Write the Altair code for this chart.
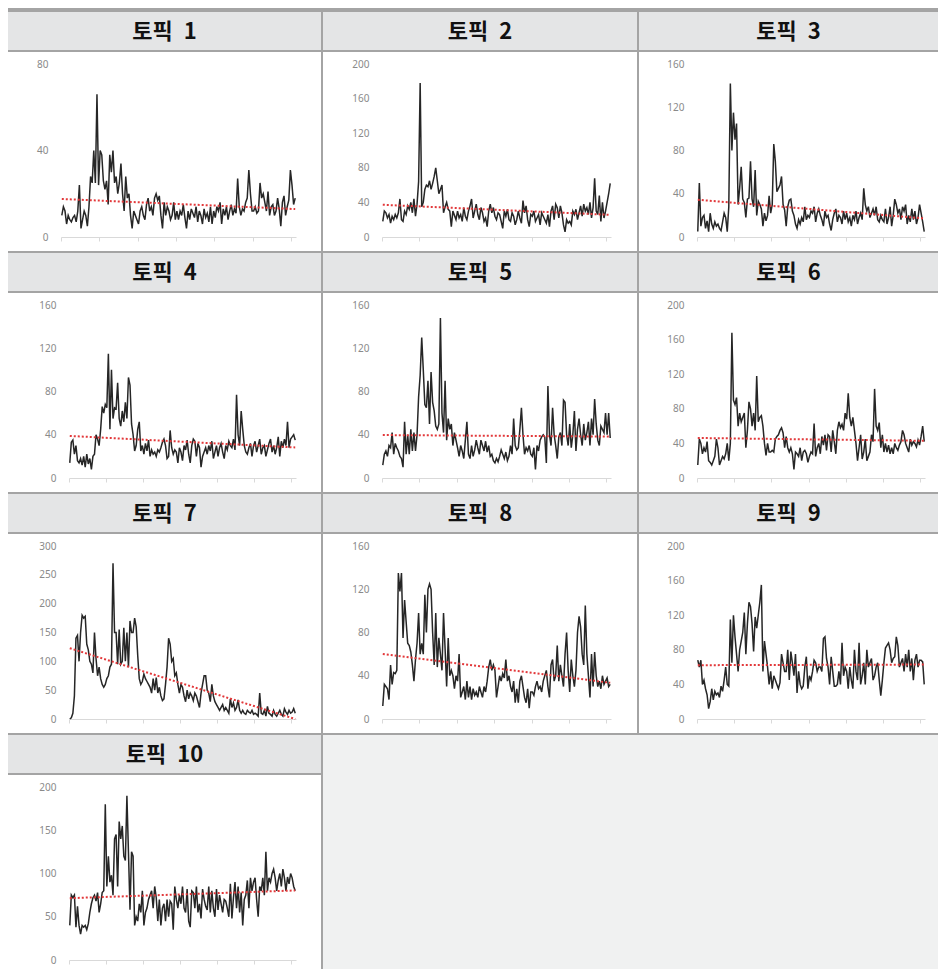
import altair as alt
import pandas as pd

# ---------------- data ----------------
TITLES = ["토픽 1", "토픽 2", "토픽 3", "토픽 4", "토픽 5",
          "토픽 6", "토픽 7", "토픽 8", "토픽 9", "토픽 10"]

TOPIC_1 = [10, 14, 12, 6, 10, 8, 7, 9, 10, 7, 12, 24, 4, 8, 12, 10, 5, 14, 28, 25, 40, 25, 66, 24,
           40, 38, 26, 22, 26, 15, 38, 30, 40, 25, 28, 20, 25, 34, 20, 12, 28, 18, 20, 10, 4, 12, 10, 8,
           6, 12, 14, 10, 8, 15, 18, 12, 14, 10, 18, 20, 17, 19, 10, 4, 16, 10, 14, 12, 8, 10, 16, 8,
           12, 8, 12, 10, 15, 9, 4, 12, 8, 13, 11, 9, 14, 7, 12, 10, 6, 13, 9, 11, 7, 14, 6, 12,
           9, 14, 12, 16, 6, 13, 10, 14, 8, 12, 15, 10, 13, 11, 27, 14, 10, 13, 12, 16, 18, 31, 20, 12,
           12, 14, 11, 12, 25, 18, 20, 16, 12, 21, 10, 14, 15, 10, 12, 18, 13, 5, 16, 19, 10, 14, 17, 31,
           24, 15, 18]
TOPIC_2 = [18, 30, 28, 22, 26, 16, 24, 20, 26, 22, 28, 44, 20, 18, 30, 26, 36, 32, 40, 28, 44, 24, 38, 64,
           178, 35, 40, 55, 60, 58, 65, 55, 62, 70, 80, 65, 50, 55, 60, 28, 35, 40, 32, 30, 12, 30, 25, 20,
           30, 22, 26, 18, 34, 24, 20, 30, 36, 44, 22, 30, 38, 26, 20, 34, 28, 18, 22, 12, 30, 38, 28, 34,
           24, 20, 28, 26, 18, 10, 30, 24, 32, 20, 18, 28, 24, 14, 20, 30, 22, 16, 42, 28, 36, 20, 12, 26,
           24, 30, 18, 22, 26, 14, 28, 24, 20, 16, 26, 12, 30, 36, 20, 38, 34, 22, 36, 28, 14, 6, 20, 16,
           18, 14, 30, 26, 32, 20, 28, 36, 24, 38, 30, 34, 26, 40, 22, 34, 68, 30, 26, 48, 18, 40, 22, 30,
           40, 50, 62]
TOPIC_3 = [5, 50, 10, 18, 20, 8, 15, 5, 22, 12, 8, 14, 10, 12, 8, 6, 14, 22, 18, 5, 28, 142, 80, 115,
           90, 105, 30, 45, 65, 35, 32, 18, 35, 36, 70, 35, 28, 62, 20, 33, 30, 26, 10, 22, 15, 20, 38, 22,
           30, 86, 70, 42, 45, 48, 56, 30, 25, 10, 28, 34, 35, 24, 20, 12, 8, 16, 12, 18, 14, 28, 16, 20,
           18, 24, 22, 28, 14, 22, 26, 20, 16, 10, 24, 18, 20, 12, 6, 16, 22, 26, 14, 20, 18, 12, 24, 16,
           22, 14, 18, 10, 20, 16, 24, 12, 18, 22, 16, 45, 30, 24, 28, 18, 22, 26, 20, 28, 16, 14, 20, 16,
           14, 26, 12, 18, 28, 10, 20, 35, 30, 22, 26, 16, 28, 24, 30, 12, 20, 14, 26, 16, 24, 12, 18, 30,
           22, 14, 5]
TOPIC_4 = [14, 33, 35, 22, 30, 16, 14, 18, 12, 20, 10, 22, 13, 18, 8, 20, 22, 40, 36, 30, 45, 66, 60, 68,
           65, 115, 45, 100, 55, 65, 64, 88, 55, 48, 62, 52, 70, 55, 93, 86, 50, 40, 25, 30, 45, 52, 25, 30,
           22, 32, 25, 35, 20, 26, 22, 24, 20, 26, 24, 28, 33, 36, 30, 18, 20, 44, 28, 22, 26, 24, 14, 28,
           24, 16, 30, 26, 35, 22, 14, 30, 36, 34, 20, 32, 28, 10, 20, 24, 28, 22, 30, 25, 34, 18, 24, 30,
           20, 28, 32, 24, 18, 30, 26, 34, 30, 28, 36, 26, 77, 40, 30, 62, 45, 30, 24, 22, 28, 32, 20, 30,
           34, 24, 30, 36, 22, 28, 30, 20, 26, 32, 36, 24, 30, 22, 28, 38, 20, 34, 28, 36, 30, 52, 28, 36,
           38, 40, 35]
TOPIC_5 = [12, 22, 25, 20, 30, 28, 42, 22, 32, 28, 25, 20, 18, 10, 52, 22, 40, 22, 45, 25, 42, 25, 40, 75,
           95, 130, 100, 68, 65, 90, 50, 98, 70, 62, 48, 45, 50, 148, 60, 42, 90, 35, 55, 45, 50, 30, 42, 35,
           28, 20, 30, 25, 18, 35, 52, 22, 18, 30, 20, 26, 35, 28, 22, 35, 30, 25, 34, 24, 30, 20, 22, 16,
           14, 18, 15, 20, 26, 22, 18, 24, 16, 20, 30, 22, 55, 30, 26, 28, 45, 65, 40, 22, 28, 25, 30, 22,
           20, 28, 8, 30, 25, 35, 38, 40, 38, 14, 85, 40, 30, 65, 40, 30, 18, 38, 42, 30, 72, 70, 40, 30,
           50, 28, 40, 62, 25, 45, 55, 40, 30, 50, 35, 42, 52, 30, 55, 40, 73, 50, 35, 30, 48, 45, 42, 60,
           40, 60, 37]
TOPIC_6 = [15, 45, 40, 28, 35, 30, 42, 20, 18, 15, 20, 25, 45, 35, 15, 20, 25, 22, 28, 40, 20, 40, 168, 90,
           85, 93, 60, 75, 65, 70, 75, 35, 55, 88, 80, 60, 75, 55, 118, 65, 70, 72, 60, 40, 26, 40, 30, 30,
           32, 30, 45, 48, 50, 55, 58, 52, 35, 48, 35, 30, 35, 28, 10, 30, 28, 25, 35, 20, 30, 32, 28, 18,
           25, 30, 28, 63, 25, 35, 40, 28, 48, 38, 50, 32, 50, 48, 30, 55, 42, 28, 55, 65, 58, 62, 55, 75,
           68, 98, 70, 60, 70, 55, 40, 20, 35, 50, 22, 30, 45, 20, 25, 30, 50, 42, 103, 60, 55, 64, 35, 50,
           30, 40, 30, 38, 28, 35, 28, 40, 35, 32, 38, 42, 55, 50, 40, 35, 30, 45, 38, 42, 40, 36, 44, 38,
           48, 60, 42]
TOPIC_7 = [0, 2, 10, 40, 140, 145, 100, 150, 180, 175, 178, 130, 120, 100, 95, 80, 150, 105, 75, 90, 70, 60, 55, 60,
           70, 75, 90, 95, 270, 150, 150, 95, 155, 95, 100, 158, 100, 150, 90, 170, 150, 150, 175, 160, 110, 70, 60, 65,
           78, 70, 65, 60, 55, 45, 70, 50, 72, 45, 55, 40, 32, 35, 60, 90, 140, 130, 100, 105, 75, 80, 60, 45,
           60, 55, 40, 30, 50, 35, 45, 40, 32, 45, 40, 30, 20, 45, 60, 75, 75, 50, 45, 30, 60, 40, 30, 25,
           20, 15, 20, 25, 15, 20, 15, 10, 35, 20, 28, 15, 20, 33, 15, 10, 15, 10, 8, 15, 12, 10, 15, 8,
           10, 8, 5, 45, 10, 8, 15, 5, 22, 10, 8, 5, 15, 8, 5, 10, 15, 8, 5, 18, 12, 8, 15, 10,
           12, 18, 10]
TOPIC_8 = [12, 32, 30, 28, 18, 50, 32, 43, 42, 45, 135, 118, 135, 75, 110, 90, 70, 68, 62, 50, 35, 55, 70, 98,
           60, 70, 60, 115, 80, 120, 125, 120, 80, 50, 98, 48, 75, 60, 45, 98, 65, 30, 75, 40, 45, 40, 28, 40,
           35, 60, 20, 25, 30, 18, 35, 20, 30, 18, 28, 22, 25, 20, 30, 25, 20, 30, 25, 35, 48, 55, 45, 50,
           45, 20, 30, 40, 35, 42, 38, 55, 35, 40, 30, 25, 35, 15, 28, 15, 35, 40, 30, 20, 15, 28, 10, 25,
           25, 22, 30, 35, 28, 30, 25, 35, 40, 45, 30, 20, 50, 55, 35, 40, 68, 35, 50, 40, 30, 60, 80, 45,
           25, 55, 40, 30, 45, 80, 95, 85, 60, 50, 105, 60, 40, 20, 60, 30, 62, 40, 30, 35, 28, 40, 32, 35,
           38, 30, 32]
TOPIC_9 = [68, 60, 68, 40, 45, 35, 28, 12, 20, 35, 22, 32, 28, 30, 25, 38, 32, 45, 60, 40, 38, 115, 65, 120,
           95, 75, 55, 80, 90, 100, 123, 75, 110, 135, 130, 110, 78, 118, 105, 120, 135, 155, 55, 90, 75, 60, 40, 55,
           35, 50, 45, 40, 35, 42, 75, 65, 55, 55, 80, 45, 78, 65, 50, 75, 30, 55, 40, 35, 38, 60, 72, 35,
           50, 45, 55, 68, 65, 55, 60, 60, 55, 93, 95, 70, 60, 40, 72, 55, 38, 38, 40, 55, 40, 88, 50, 60,
           55, 35, 60, 45, 35, 80, 55, 45, 88, 40, 50, 65, 40, 80, 60, 65, 70, 45, 50, 60, 65, 45, 27, 45,
           65, 82, 85, 88, 80, 65, 70, 72, 95, 85, 60, 65, 70, 55, 75, 60, 80, 55, 70, 45, 68, 75, 60, 68,
           68, 66, 40]
TOPIC_10 = [40, 75, 72, 75, 38, 62, 40, 30, 40, 38, 40, 35, 42, 55, 65, 72, 75, 68, 78, 55, 65, 78, 80, 180,
            85, 120, 90, 98, 75, 140, 145, 85, 160, 140, 155, 120, 115, 190, 125, 58, 125, 120, 40, 50, 45, 65, 55, 80,
            40, 55, 60, 70, 75, 80, 60, 85, 72, 45, 70, 40, 60, 65, 45, 70, 50, 68, 65, 35, 85, 70, 60, 75,
            65, 85, 60, 55, 82, 45, 38, 80, 78, 60, 85, 55, 65, 48, 82, 70, 62, 58, 85, 55, 80, 60, 50, 82,
            58, 75, 65, 55, 70, 68, 60, 50, 88, 48, 72, 90, 60, 85, 55, 78, 40, 70, 75, 92, 60, 95, 80, 90,
            95, 70, 50, 85, 80, 95, 75, 125, 80, 95, 90, 100, 105, 95, 80, 92, 100, 85, 105, 95, 80, 96, 88, 100,
            95, 85, 80]

SERIES = [TOPIC_1, TOPIC_2, TOPIC_3, TOPIC_4, TOPIC_5,
          TOPIC_6, TOPIC_7, TOPIC_8, TOPIC_9, TOPIC_10]

Y_TICKS = [
    [0, 40, 80],
    [0, 40, 80, 120, 160, 200],
    [0, 40, 80, 120, 160],
    [0, 40, 80, 120, 160],
    [0, 40, 80, 120, 160],
    [0, 40, 80, 120, 160, 200],
    [0, 50, 100, 150, 200, 250, 300],
    [0, 40, 80, 120, 160],
    [0, 40, 80, 120, 160, 200],
    [0, 50, 100, 150, 200],
]
X_TICKS = [0, 24, 48, 72, 96, 120, 144]

# ---------------- layout / style ----------------
SEP = "#a4a4a4"
HEADER_BG = "#e4e5e6"
FILL_BG = "#f0f1f1"
LINE_C = "#262626"
TREND_C = "#e2383a"
AXIS_C = "#d9d9d9"
LABEL_C = "#8a8a8a"

COL_W = [313, 314, 299]
HEADER_H = 38
ROW_PLOT_H = [199, 199, 199, 194]
Y_BOTTOM, Y_TOP = 185, 12
GAP = 2


def plot_range(k, col):
    wide = max(len(str(t)) for t in Y_TICKS[k]) >= 3
    if col == 0:
        return (61 if wide else 53), 288
    if col == 1:
        return 59, 288
    return 58, 286


def cell(k, col, plot_h):
    vals = SERIES[k]
    n = len(vals)
    df = pd.DataFrame({"x": [i + 0.5 for i in range(n)], "v": vals})
    w = COL_W[col]
    x0, x1 = plot_range(k, col)
    ymax = max(Y_TICKS[k])

    xenc = alt.X(
        "x:Q",
        scale=alt.Scale(domain=[0, n], range=[x0, x1], nice=False, zero=False),
        axis=alt.Axis(values=X_TICKS, labels=False, ticks=True, tickSize=4,
                      tickColor=AXIS_C, tickWidth=1, domainColor=AXIS_C,
                      domainWidth=1, grid=False, title=None,
                      offset=-(plot_h - Y_BOTTOM), minExtent=0),
    )
    yenc = alt.Y(
        "v:Q",
        scale=alt.Scale(domain=[0, ymax], range=[Y_BOTTOM, Y_TOP], nice=False, clamp=True),
        axis=alt.Axis(values=Y_TICKS[k], ticks=False, tickSize=0, domain=False,
                      grid=False, title=None, labelColor=LABEL_C, labelFontSize=10,
                      labelFont="Noto Sans", labelPadding=0,
                      offset=-(x0 - 13), minExtent=0),
    )
    base = alt.Chart(df)
    line = base.mark_line(color=LINE_C, strokeWidth=1.5).encode(x=xenc, y=yenc)
    trend = (
        base.transform_regression("x", "v")
        .mark_line(color=TREND_C, strokeWidth=2, strokeDash=[2, 2])
        .encode(x=xenc, y=yenc)
    )
    plot = alt.layer(line, trend).properties(
        width=w, height=plot_h,
        view=alt.ViewBackground(fill="white", strokeWidth=0),
    )
    header = (
        alt.Chart(pd.DataFrame({"t": [TITLES[k].replace(" ", "\u2002")]}))
        .mark_text(font="Noto Sans CJK KR", fontSize=22, fontWeight="bold",
                   color="#111111", align="center", baseline="middle")
        .encode(text="t:N", x=alt.value(w / 2), y=alt.value(HEADER_H / 2 + 1))
        .properties(width=w, height=HEADER_H,
                    view=alt.ViewBackground(fill=HEADER_BG, strokeWidth=0))
    )
    return alt.vconcat(header, plot, spacing=GAP)


rows = []
for r in range(3):
    rows.append(alt.hconcat(*[cell(r * 3 + c, c, ROW_PLOT_H[r]) for c in range(3)],
                            spacing=GAP))

filler_w = COL_W[1] + GAP + COL_W[2]
filler_h = HEADER_H + GAP + ROW_PLOT_H[3]
filler = (
    alt.Chart(pd.DataFrame({"t": [""]}))
    .mark_text(fontSize=1)
    .encode(text="t:N", x=alt.value(filler_w / 2), y=alt.value(filler_h / 2))
    .properties(width=filler_w, height=filler_h,
                view=alt.ViewBackground(fill=FILL_BG, strokeWidth=0))
)
rows.append(alt.hconcat(cell(9, 0, ROW_PLOT_H[3]), filler, spacing=GAP))

chart = (
    alt.vconcat(*rows, spacing=GAP)
    .properties(background=SEP, padding={"top": 4, "left": 0, "right": 0, "bottom": 0})
    .configure_view(strokeWidth=0)
)

chart.save("out.html", embed_options={"renderer": "svg", "actions": False})
